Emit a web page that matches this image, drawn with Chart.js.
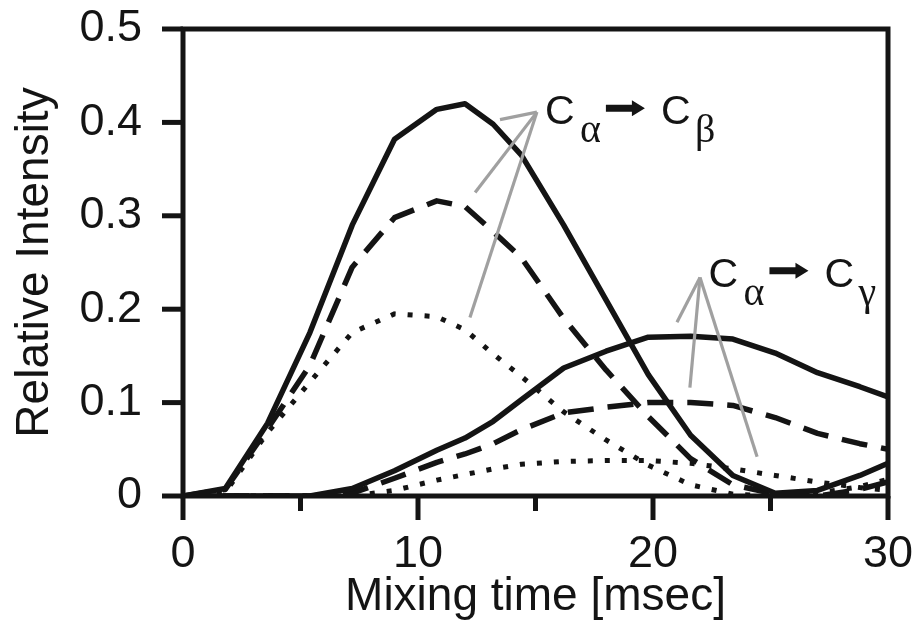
<!DOCTYPE html>
<html>
<head>
<meta charset="utf-8">
<script src="https://cdn.jsdelivr.net/npm/chart.js@4"></script>
<style>
  html, body { margin: 0; padding: 0; background: #fff; }
  #wrap { width: 913px; height: 621px; }
</style>
</head>
<body>
<div id="wrap"><canvas id="chart" width="913" height="621"></canvas></div>
<script>
// mixing time (msec) sampled along the curves
const mixTime = [0, 1.8, 3.6, 5.4, 7.2, 9.0, 10.8, 12.0, 13.2, 14.4, 16.2, 18.0, 19.8, 21.6, 23.4, 25.2, 27.0, 28.8, 30];

// Ca -> Cb transfer
const cbSolid  = [0, 0.008, 0.078, 0.175, 0.29, 0.382, 0.414, 0.42, 0.398, 0.365, 0.29, 0.21, 0.13, 0.065, 0.022, 0.003, 0.006, 0.022, 0.035];
const cbDashed = [0, 0.007, 0.072, 0.14, 0.245, 0.298, 0.316, 0.31, 0.283, 0.255, 0.19, 0.135, 0.085, 0.04, 0.012, 0.002, 0, 0.007, 0.015];
const cbDotted = [0, 0.004, 0.068, 0.122, 0.175, 0.195, 0.192, 0.178, 0.152, 0.128, 0.09, 0.06, 0.033, 0.012, 0.002, 0, 0.003, 0.01, 0.018];

// Ca -> Cg transfer
const cgSolid  = [0, 0, 0, 0, 0.008, 0.027, 0.049, 0.062, 0.08, 0.103, 0.137, 0.155, 0.17, 0.171, 0.168, 0.153, 0.132, 0.117, 0.106];
const cgDashed = [0, 0, 0, 0, 0.003, 0.019, 0.036, 0.045, 0.056, 0.071, 0.089, 0.095, 0.1, 0.1, 0.097, 0.084, 0.067, 0.056, 0.05];
const cgDotted = [0, 0, 0, 0, 0, 0.006, 0.017, 0.023, 0.029, 0.034, 0.037, 0.038, 0.038, 0.035, 0.029, 0.022, 0.015, 0.009, 0.006];

const xMajorTicks = [0, 10, 20, 30];
const xMinorTicks = [5, 15, 25];
const yTicks = [0, 0.1, 0.2, 0.3, 0.4, 0.5];
const yTickLabels = ["0", "0.1", "0.2", "0.3", "0.4", "0.5"];

// grey pointer lines: [apex, end] pairs in data units
const cbPointer = { apex: [15.06, 0.411], ends: [[13.49, 0.403], [12.43, 0.325], [12.21, 0.191]] };
const cgPointer = { apex: [22.0, 0.234], ends: [[21.02, 0.186], [21.57, 0.116], [24.43, 0.042]] };
const cbLabel = { at: [15.4, 0.398], sub: "\u03b2" };
const cgLabel = { at: [22.36, 0.224], sub: "\u03b3" };

const INK = "#141414";
const SANS = "'Liberation Sans', Arial, Helvetica, sans-serif";
const SERIF = "'Liberation Serif', 'DejaVu Serif', serif";

const pts = (ys) => mixTime.map((x, i) => ({ x: x, y: ys[i] }));

const lineSet = (ys, dash) => ({
  data: pts(ys),
  borderColor: INK,
  borderWidth: dash && dash[0] < 8 ? 5 : 5.5,
  borderDash: dash || [],
  borderCapStyle: "butt",
  borderJoinStyle: "round",
  pointRadius: 0,
  showLine: true,
  tension: 0,
  fill: false,
});

// box, ticks, pointers and the Ca -> Cx labels
const decor = {
  id: "decor",
  afterDatasetsDraw(chart) {
    const ctx = chart.ctx;
    const xs = chart.scales.x, ys = chart.scales.y;
    const a = chart.chartArea;
    const px = (v) => xs.getPixelForValue(v);
    const py = (v) => ys.getPixelForValue(v);
    ctx.save();

    // grey pointers
    ctx.strokeStyle = "#a0a0a0";
    ctx.lineWidth = 3.2;
    ctx.lineCap = "butt";
    [cbPointer, cgPointer].forEach((p) => {
      p.ends.forEach((e) => {
        ctx.beginPath();
        ctx.moveTo(px(p.apex[0]), py(p.apex[1]));
        ctx.lineTo(px(e[0]), py(e[1]));
        ctx.stroke();
      });
    });

    // frame
    ctx.strokeStyle = INK;
    ctx.lineWidth = 5;
    ctx.lineCap = "square";
    ctx.strokeRect(a.left, a.top, a.right - a.left, a.bottom - a.top);

    // ticks
    ctx.lineCap = "butt";
    yTicks.forEach((v) => {
      ctx.beginPath();
      ctx.moveTo(a.left - 21, py(v));
      ctx.lineTo(a.left, py(v));
      ctx.stroke();
    });
    xMajorTicks.forEach((v) => {
      ctx.beginPath();
      ctx.moveTo(px(v), a.bottom);
      ctx.lineTo(px(v), a.bottom + 24);
      ctx.stroke();
    });
    xMinorTicks.forEach((v) => {
      ctx.beginPath();
      ctx.moveTo(px(v), a.bottom);
      ctx.lineTo(px(v), a.bottom + 15);
      ctx.stroke();
    });

    // labels
    [cbLabel, cgLabel].forEach((l) => {
      const x0 = px(l.at[0]), y0 = py(l.at[1]);
      ctx.fillStyle = INK;
      ctx.textBaseline = "alphabetic";
      ctx.textAlign = "left";
      ctx.font = "41px " + SANS;
      ctx.fillText("C", x0, y0);
      ctx.fillText("C", x0 + 116, y0);
      ctx.font = "40px " + SERIF;
      ctx.fillText("\u03b1", x0 + 35, y0 + 18);
      ctx.fillText(l.sub, x0 + 150, y0 + 18);
      // black arrow
      const ax = x0 + 61, ay = y0 - 16;
      ctx.beginPath();
      ctx.moveTo(ax, ay - 3.5);
      ctx.lineTo(ax + 26, ay - 3.5);
      ctx.lineTo(ax + 26, ay - 8);
      ctx.lineTo(ax + 39, ay);
      ctx.lineTo(ax + 26, ay + 8);
      ctx.lineTo(ax + 26, ay + 3.5);
      ctx.lineTo(ax, ay + 3.5);
      ctx.closePath();
      ctx.fill();
    });
    ctx.restore();
  },
};

new Chart(document.getElementById("chart"), {
  type: "scatter",
  data: {
    datasets: [
      lineSet(cbSolid),
      lineSet(cbDashed, [26, 14]),
      lineSet(cbDotted, [5, 12]),
      lineSet(cgSolid),
      lineSet(cgDashed, [26, 14]),
      lineSet(cgDotted, [5, 12]),
    ],
  },
  options: {
    responsive: false,
    animation: false,
    events: [],
    layout: { padding: { left: 0, top: 29, right: 25, bottom: 0 } },
    plugins: { legend: { display: false }, tooltip: { enabled: false } },
    scales: {
      x: {
        type: "linear",
        min: 0,
        max: 30,
        afterFit: (s) => { s.height = 125; s.paddingLeft = 0; s.paddingRight = 0; },
        afterBuildTicks: (s) => { s.ticks = xMajorTicks.map((v) => ({ value: v })); },
        grid: { display: false },
        border: { display: false },
        ticks: {
          color: INK,
          padding: 28,
          maxRotation: 0,
          font: { family: SANS, size: 45, lineHeight: 1 },
          callback: (v) => String(v),
        },
        title: {
          display: true,
          text: "Mixing time [msec]",
          color: INK,
          padding: { top: 0, bottom: 1 },
          font: { family: SANS, size: 46, lineHeight: 1 },
        },
      },
      y: {
        type: "linear",
        min: 0,
        max: 0.5,
        afterFit: (s) => { s.width = 183; s.paddingTop = 0; s.paddingBottom = 0; },
        afterBuildTicks: (s) => { s.ticks = yTicks.map((v) => ({ value: v })); },
        grid: { display: false },
        border: { display: false },
        ticks: {
          color: INK,
          padding: 33,
          font: { family: SANS, size: 45, lineHeight: 1 },
          callback: (v) => yTickLabels[yTicks.indexOf(v)] ?? "",
        },
        title: {
          display: true,
          text: "Relative Intensity",
          color: INK,
          padding: { top: 12, bottom: 0 },
          font: { family: SANS, size: 46, lineHeight: 1 },
        },
      },
    },
  },
  plugins: [decor],
});
</script>
</body>
</html>
